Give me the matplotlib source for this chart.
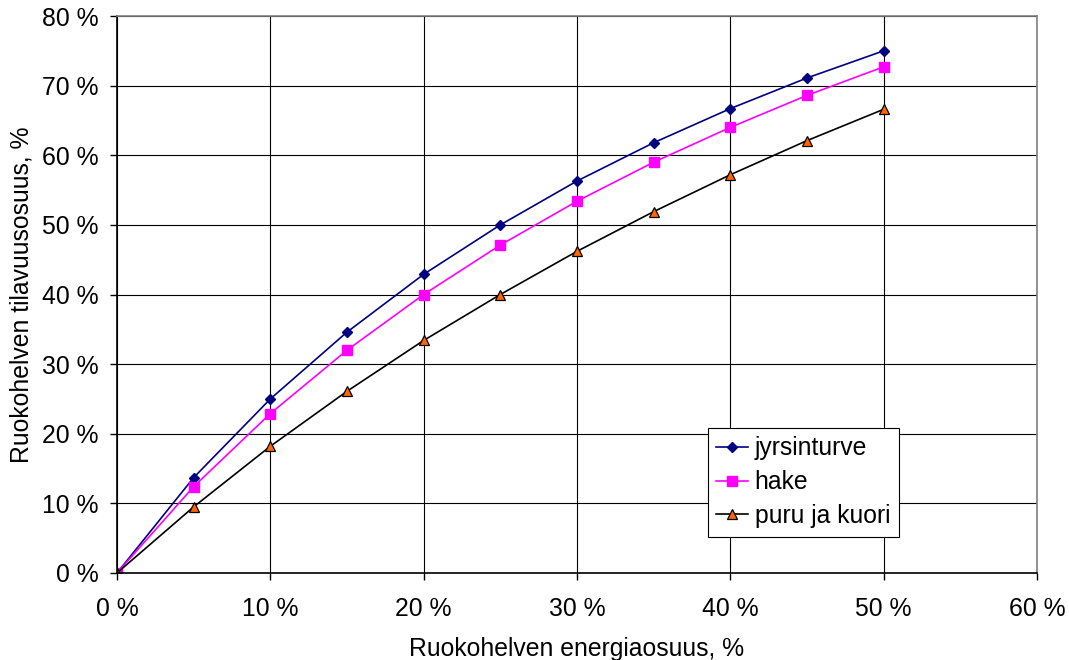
import numpy as np
import matplotlib.pyplot as plt
from matplotlib.ticker import FuncFormatter

plt.rcParams['font.family'] = ['Liberation Sans', 'DejaVu Sans']

# energiaosuus, %
energia = [0, 5, 10, 15, 20, 25, 30, 35, 40, 45, 50]
# tilavuusosuus, %
jyrsinturve = [0, 13.7, 25.0, 34.6, 42.9, 50.0, 56.3, 61.8, 66.7, 71.1, 75.0]
hake = [0, 12.4, 22.9, 32.0, 40.0, 47.1, 53.4, 59.0, 64.0, 68.6, 72.7]
puru_ja_kuori = [0, 9.5, 18.2, 26.1, 33.4, 40.0, 46.2, 51.9, 57.2, 62.1, 66.6]

fs = 17.8

fig = plt.figure(figsize=(10.69, 6.6), dpi=100)
ax = fig.add_axes([117/1069, 1-573/660, 920/1069, 557/660])

ax.plot(energia, jyrsinturve, color='#000080', lw=1.2, marker='D', ms=5,
        mfc='#000080', mec='#000080', label='jyrsinturve')
ax.plot(energia, hake, color='#FF00FF', lw=1.2, marker='s', ms=7,
        mfc='#FF00FF', mec='#FF00FF', label='hake')
ax.plot(energia, puru_ja_kuori, color='black', lw=1.2, marker='^', ms=7,
        mfc='#FF6600', mec='black', mew=0.9, label='puru ja kuori')

ax.set_xlim(0, 60)
ax.set_ylim(0, 80)
ax.set_xticks(np.arange(0, 61, 10))
ax.set_yticks(np.arange(0, 81, 10))
fmt = FuncFormatter(lambda v, p: '%d %%' % v)
ax.xaxis.set_major_formatter(fmt)
ax.yaxis.set_major_formatter(fmt)
ax.tick_params(labelsize=fs, direction='out', length=5, width=1, color='black')
ax.tick_params(axis='x', pad=12)
ax.tick_params(axis='y', pad=8)

ax.grid(True, color='black', lw=0.8)
ax.set_axisbelow(True)
for s in ['top', 'right']:
    ax.spines[s].set_color('#808080')
    ax.spines[s].set_linewidth(1.2)
for s in ['left', 'bottom']:
    ax.spines[s].set_color('black')
    ax.spines[s].set_linewidth(1.2)

ax.set_xlabel('Ruokohelven energiaosuus, %', fontsize=fs, labelpad=12)
ax.set_ylabel('Ruokohelven tilavuusosuus, %', fontsize=fs, labelpad=6)

leg = ax.legend(loc='lower left', bbox_to_anchor=(0.642, 0.065), fontsize=fs,
                frameon=True, fancybox=False, edgecolor='black', framealpha=1,
                borderpad=0.35, labelspacing=0.4, handlelength=1.3,
                handletextpad=0.25, borderaxespad=0)
leg.get_frame().set_linewidth(0.8)

fig.savefig('out.png', dpi=100)
